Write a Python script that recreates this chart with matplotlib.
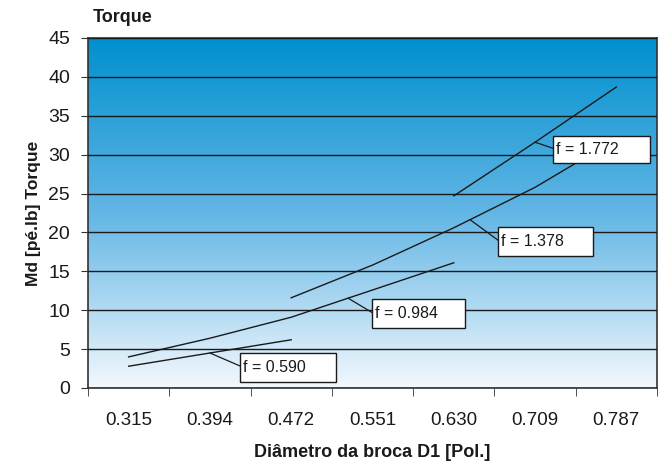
import numpy as np
import matplotlib
matplotlib.use("Agg")
import matplotlib.pyplot as plt
from matplotlib.colors import LinearSegmentedColormap
from matplotlib.patches import Rectangle

plt.rcParams['font.family'] = ['Liberation Sans', 'DejaVu Sans']

# Diâmetro da broca (categorias do eixo x)
diametros = ['0.315', '0.394', '0.472', '0.551', '0.630', '0.709', '0.787']

# Torque por avanço f (índice da primeira categoria + valores)
f_labels = ['f = 0.590', 'f = 0.984', 'f = 1.378', 'f = 1.772']
inicio = [0, 0, 2, 4]
torque_0590 = [2.8, 4.5, 6.2]
torque_0984 = [4.0, 6.4, 9.1, 12.6, 16.1]
torque_1378 = [11.6, 15.8, 20.6, 25.8, 32.0]
torque_1772 = [24.7, 31.6, 38.7]
series = [torque_0590, torque_0984, torque_1378, torque_1772]

fig = plt.figure(figsize=(6.67, 4.63), dpi=100)
ax = fig.add_axes([88/667, 1 - 388/463, 569/667, 350/463])

# fundo em degradê
cmap = LinearSegmentedColormap.from_list('fundo', ['#F3F8FD', '#62B6E5', '#0090CE'])
grad = np.linspace(0, 1, 256).reshape(-1, 1)
ax.imshow(grad, cmap=cmap, aspect='auto', origin='lower',
          extent=[-0.5, 6.5, 0, 45], zorder=0)

ax.set_xlim(-0.5, 6.5)
ax.set_ylim(0, 45)
ax.set_yticks(range(0, 46, 5))
ax.yaxis.grid(True, color='#1a1a1a', linewidth=1)
ax.set_axisbelow(False)
for gl in ax.get_ygridlines():
    gl.set_zorder(1)

for ini, vals in zip(inicio, series):
    xs = np.arange(ini, ini + len(vals))
    ax.plot(xs, vals, color='#1a1a1a', linewidth=1, zorder=3)

# rótulos com linha guia: (posição x na linha, caixa x0, y0, largura, altura)
rotulos = [(1.0, 1.37, 0.8, 1.18, 3.7),
           (2.7, 2.99, 7.7, 1.15, 3.7),
           (4.2, 4.54, 17.0, 1.17, 3.7),
           (5.0, 5.22, 28.9, 1.20, 3.5)]
for (xa, bx, by, bw, bh), ini, vals, lab in zip(rotulos, inicio, series, f_labels):
    xs = np.arange(ini, ini + len(vals))
    ya = np.interp(xa, xs, vals)
    ax.plot([xa, bx], [ya, by + bh * 0.55], color='#1a1a1a', linewidth=0.9, zorder=4)
    ax.add_patch(Rectangle((bx, by), bw, bh, facecolor='white', edgecolor='#1a1a1a',
                           linewidth=1, zorder=5))
    ax.text(bx + 0.04, by + bh / 2, lab, fontsize=11.5, ha='left', va='center',
            color='#1a1a1a', zorder=6)

ax.set_xticks(range(len(diametros)))
ax.set_xticklabels(diametros, fontsize=13.5, color='#1a1a1a')
ax.set_xticks(np.arange(-0.5, 7, 1), minor=True)
ax.tick_params(axis='x', which='major', length=0, pad=17)
ax.tick_params(axis='x', which='minor', length=6, color='#333333')
ax.tick_params(axis='y', labelsize=14, length=5, pad=8, color='#333333',
               labelcolor='#1a1a1a')

for s in ax.spines.values():
    s.set_color('#333333')
    s.set_linewidth(1.2)

ax.set_xlabel('Diâmetro da broca D1 [Pol.]', fontsize=13, fontweight='bold',
              color='#1a1a1a', labelpad=11)
ax.set_ylabel('Md [pé.lb] Torque', fontsize=12.5, fontweight='bold',
              color='#1a1a1a', labelpad=5)
fig.text(93/667, 1 - 18/463, 'Torque', fontsize=13, fontweight='bold',
         color='#1a1a1a', ha='left', va='center')

fig.savefig('out.png', dpi=100)
